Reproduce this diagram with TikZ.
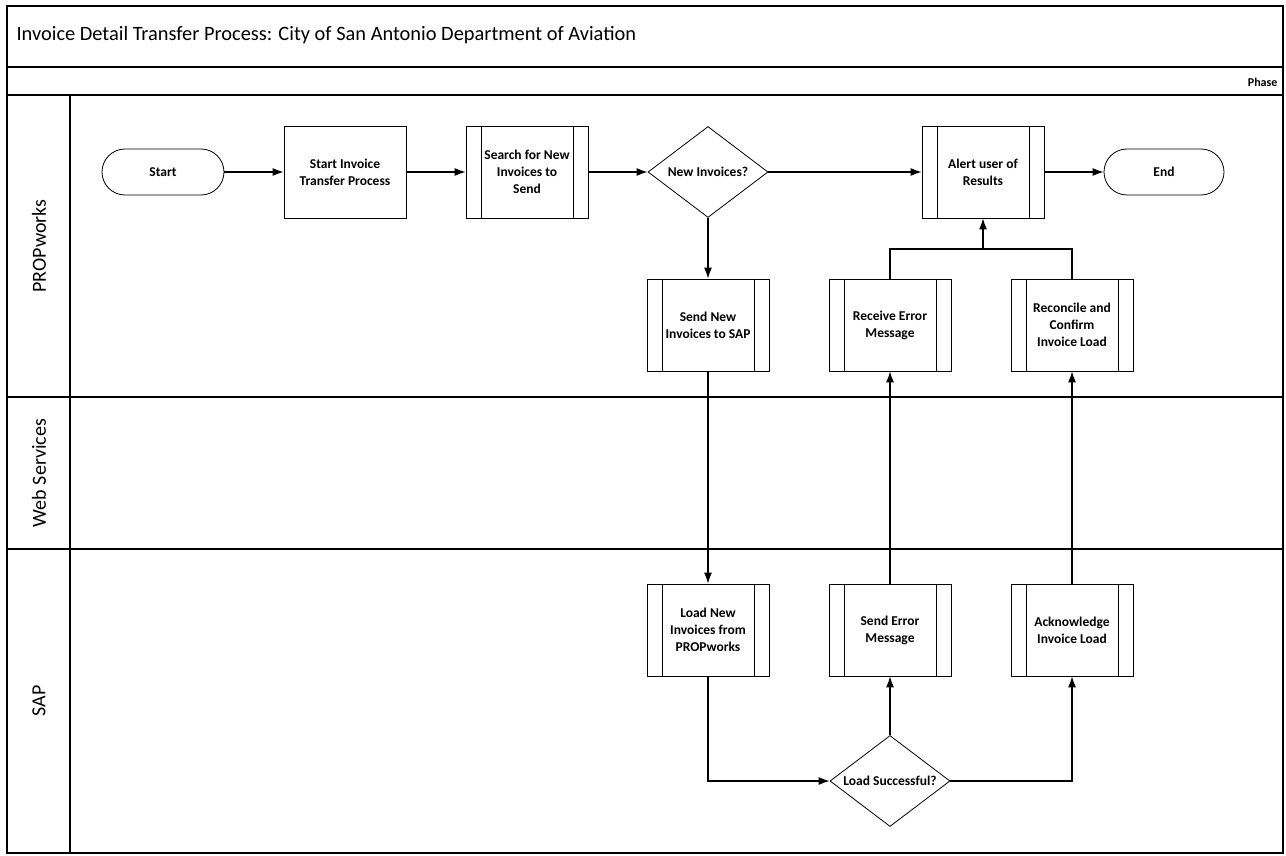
\documentclass[tikz,border=0pt]{standalone}
\usepackage{fontspec}
\setmainfont{Carlito}
\usetikzlibrary{shapes.geometric,arrows.meta}
\begin{document}
\begin{tikzpicture}[x=1pt,y=-1pt,
        lane/.style={line width=1.3pt},
        box/.style={draw,line width=0.8pt,minimum width=122pt,minimum height=92pt,
            align=center,font=\fontsize{13.5}{17}\selectfont\bfseries},
        subproc/.style={box,path picture={
            \draw ([xshift=15pt]path picture bounding box.north west) -- ([xshift=15pt]path picture bounding box.south west);
            \draw ([xshift=-15pt]path picture bounding box.north east) -- ([xshift=-15pt]path picture bounding box.south east);}},
        term/.style={box,minimum height=46pt,rounded corners=23pt},
        decide/.style={box,diamond,aspect=1.32,inner sep=0pt,minimum width=120pt,minimum height=91pt},
        arr/.style={-{Latex[length=11pt,width=8pt]},line width=1.2pt}]
\useasboundingbox (0,0) rectangle (1286,856);

\draw[lane] (7,6) rectangle (1283,853);
\draw[lane] (7,67) -- (1283,67) (7,95) -- (1283,95) (7,397) -- (1283,397) (7,549) -- (1283,549) (70,95) -- (70,853);
\node[anchor=west,font=\fontsize{20.4}{24}\selectfont] (title) at (13,35) {Invoice Detail Transfer Process: City of San Antonio Department of Aviation};
\node[anchor=east,font=\fontsize{12}{14}\selectfont\bfseries] (phase) at (1281,82) {Phase};
\foreach \y/\t/\n in {246/PROPworks/propw, 473/Web Services/websv, 701/SAP/sapl}
    \node[rotate=90,font=\fontsize{20}{24}\selectfont] (\n) at (39,\y) {\t};

\node[term] (start) at (163,172) {Start};
\node[box] (init) at (345,172) {Start Invoice\\Transfer Process};
\node[subproc] (search) at (527,172) {Search for New\\Invoices to\\Send};
\node[decide] (newinv) at (708,172) {New Invoices?};
\node[subproc] (alert) at (983,172) {Alert user of\\Results};
\node[term,minimum width=120pt] (end) at (1164,172) {End};
\node[subproc] (sendnew) at (708,325) {Send New\\Invoices to SAP};
\node[subproc] (recverr) at (890,325) {Receive Error\\Message};
\node[subproc] (reconcile) at (1072,325) {Reconcile and\\Confirm\\Invoice Load};
\node[subproc] (loadnew) at (708,630) {Load New\\Invoices from\\PROPworks};
\node[subproc] (senderr) at (890,630) {Send Error\\Message};
\node[subproc] (ack) at (1072,630) {Acknowledge\\Invoice Load};
\node[decide] (loadok) at (890,781) {Load Successful?};
\coordinate (join) at (983,249);

\draw[arr] (start) -- (init);
\draw[arr] (init) -- (search);
\draw[arr] (search) -- (newinv);
\draw[arr] (newinv) -- (alert);
\draw[arr] (alert) -- (end);
\draw[arr] (newinv) -- (sendnew);
\draw[arr] (sendnew) -- (loadnew);
\draw[arr] (loadnew.south) |- (loadok.west);
\draw[arr] (loadok) -- (senderr);
\draw[arr] (loadok.east) -| (ack.south);
\draw[arr] (senderr) -- (recverr);
\draw[arr] (ack) -- (reconcile);
\draw[line width=1.2pt] (recverr.north) |- (join) -| (reconcile.north);
\draw[arr] (join) -- (alert.south);
\end{tikzpicture}
\end{document}
